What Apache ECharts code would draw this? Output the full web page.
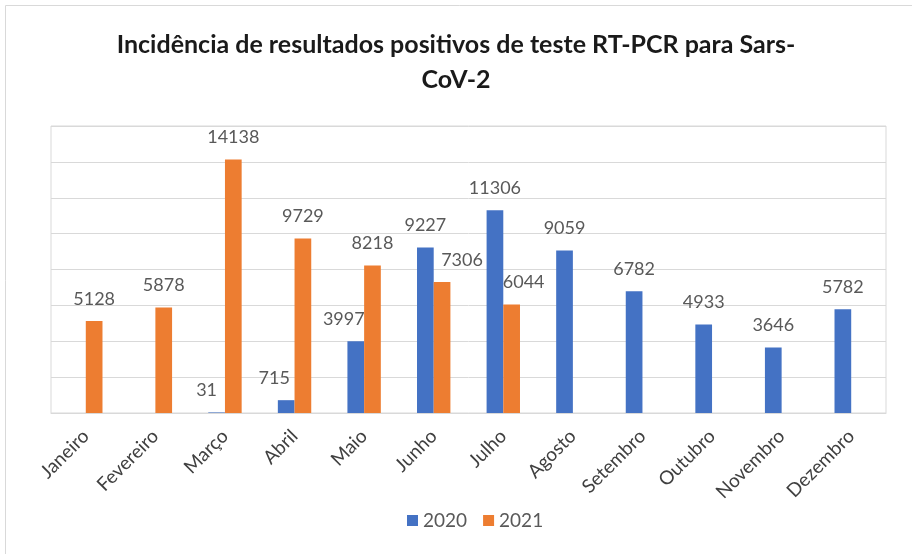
<!DOCTYPE html>
<html>
<head>
<meta charset="utf-8">
<script src="https://cdn.jsdelivr.net/npm/echarts@6/dist/echarts.min.js"></script>
<style>
  html, body { margin: 0; padding: 0; background: #fff; }
  #chart { width: 912px; height: 554px; }
</style>
</head>
<body>
<div id="chart"></div>
<script>
const months = ["Janeiro", "Fevereiro", "Março", "Abril", "Maio", "Junho", "Julho",
  "Agosto", "Setembro", "Outubro", "Novembro", "Dezembro"];
const cases2020 = [null, null, 31, 715, 3997, 9227, 11306, 9059, 6782, 4933, 3646, 5782];
const cases2021 = [5128, 5878, 14138, 9729, 8218, 7306, 6044, null, null, null, null, null];

document.addEventListener("DOMContentLoaded", function () {
  const myChart = echarts.init(document.getElementById("chart"));
  const font = "Lato, 'Open Sans', sans-serif";

  // small horizontal nudges of some labels, as in the original
  const nudge2020 = { 2: -10, 3: -12, 4: -12 };
  const nudge2021 = { 5: 20, 6: 12 };
  function withNudges(values, nudges) {
    return values.map(function (v, i) {
      if (nudges[i] === undefined) return v;
      return { value: v, label: { offset: [nudges[i], 0] } };
    });
  }

  const labelStyle = {
    show: true,
    position: "top",
    distance: 13,
    color: "#595959",
    fontSize: 18,
    fontFamily: font,
  };

  const option = {
    animation: false,
    title: {
      text: "Incidência de resultados positivos de teste RT-PCR para Sars-\nCoV-2",
      left: "center",
      top: 22,
      textStyle: {
        fontFamily: font,
        fontWeight: "bold",
        fontSize: 25,
        lineHeight: 35,
        color: "#1a1a1a",
      },
    },
    graphic: [
      {
        type: "rect",
        shape: { x: 5.5, y: 5.5, width: 950, height: 600 },
        style: { fill: "none", stroke: "#d9d9d9", lineWidth: 1 },
        silent: true,
      },
    ],
    legend: {
      bottom: 19,
      left: 402,
      itemWidth: 11,
      itemHeight: 11,
      itemGap: 16,
      icon: "rect",
      textStyle: { fontFamily: font, fontSize: 19, color: "#595959" },
      data: ["2020", "2021"],
    },
    grid: {
      left: 51,
      right: 26,
      top: 126,
      bottom: 141,
      show: true,
      borderColor: "#d9d9d9",
      borderWidth: 1,
    },
    xAxis: {
      type: "category",
      data: months,
      axisLine: { show: true, lineStyle: { color: "#d9d9d9" } },
      axisTick: { show: false },
      axisLabel: {
        rotate: 45,
        interval: 0,
        margin: 20,
        fontFamily: font,
        fontSize: 19,
        color: "#404040",
      },
    },
    yAxis: {
      type: "value",
      min: 0,
      max: 16000,
      interval: 2000,
      axisLabel: { show: false },
      axisLine: { show: false },
      axisTick: { show: false },
      splitLine: { lineStyle: { color: "#d9d9d9", width: 1 } },
    },
    series: [
      {
        name: "2020",
        type: "bar",
        barWidth: 16.7,
        barGap: "0%",
        data: withNudges(cases2020, nudge2020),
        itemStyle: { color: "#4472C4" },
        label: labelStyle,
      },
      {
        name: "2021",
        type: "bar",
        barWidth: 16.7,
        barGap: "0%",
        data: withNudges(cases2021, nudge2021),
        itemStyle: { color: "#ED7D31" },
        label: labelStyle,
      },
    ],
  };
  myChart.setOption(option);
});
</script>
</body>
</html>
